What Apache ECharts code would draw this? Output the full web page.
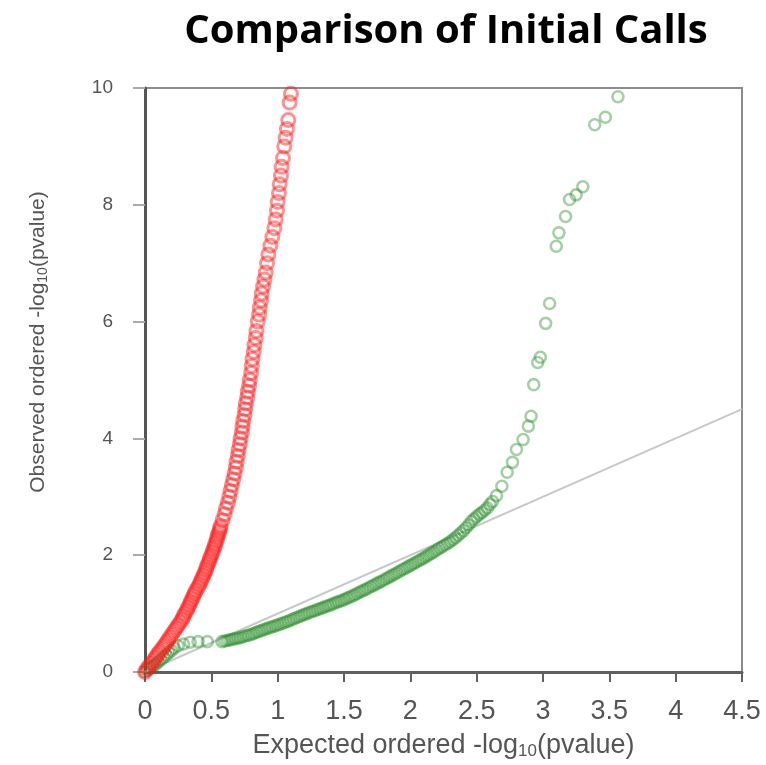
<!DOCTYPE html>
<html>
<head>
<meta charset="utf-8">
<script src="https://cdn.jsdelivr.net/npm/echarts@6/dist/echarts.min.js"></script>
<style>
html,body{margin:0;padding:0;background:#fff;}
#chart{width:766px;height:765px;}
</style>
</head>
<body>
<div id="chart"></div>
<script>
var titleText = 'Comparison of Initial Calls';
var xTicks = [0, 0.5, 1, 1.5, 2, 2.5, 3, 3.5, 4, 4.5];
var yTicks = [0, 2, 4, 6, 8, 10];

// reference diagonal (expected = observed)
var refLine = [[0, 0], [4.5, 4.5]];

// red series: [expected, observed]
var redPoints = [
  [0.000,0.00],[0.015,0.05],[0.030,0.10],[0.050,0.15],[0.065,0.20],[0.080,0.25],[0.095,0.30],[0.110,0.35],
  [0.130,0.40],[0.145,0.45],[0.160,0.50],[0.175,0.55],[0.190,0.60],[0.205,0.65],[0.220,0.70],[0.235,0.75],
  [0.250,0.80],[0.265,0.85],[0.280,0.90],[0.290,0.95],[0.300,1.00],[0.315,1.05],[0.325,1.10],[0.335,1.15],
  [0.345,1.20],[0.355,1.25],[0.365,1.30],[0.375,1.35],[0.385,1.40],[0.400,1.45],[0.410,1.50],[0.420,1.55],
  [0.430,1.60],[0.440,1.65],[0.450,1.70],[0.460,1.75],[0.465,1.80],[0.475,1.85],[0.485,1.90],[0.490,1.95],
  [0.500,2.00],[0.510,2.05],[0.515,2.10],[0.525,2.15],[0.530,2.20],[0.540,2.25],[0.545,2.30],[0.550,2.35],
  [0.560,2.40],[0.565,2.45],[0.570,2.50],[0.585,2.60],[0.600,2.70],[0.610,2.80],[0.625,2.90],[0.635,3.00],
  [0.645,3.10],[0.655,3.20],[0.665,3.30],[0.675,3.40],[0.685,3.50],[0.690,3.60],[0.700,3.70],[0.705,3.80],
  [0.715,3.90],[0.720,4.00],[0.730,4.10],[0.735,4.20],[0.740,4.30],[0.750,4.40],[0.755,4.50],[0.760,4.60],
  [0.770,4.70],[0.775,4.80],[0.785,4.90],[0.790,5.00],[0.800,5.12],[0.805,5.24],[0.810,5.36],[0.820,5.48],
  [0.825,5.60],[0.835,5.72],[0.840,5.84],[0.850,6.00],[0.860,6.12],[0.865,6.24],[0.875,6.36],[0.880,6.48],
  [0.890,6.60],[0.900,6.72],[0.910,6.84],[0.920,7.00],[0.930,7.15],[0.945,7.30],[0.960,7.45],[0.975,7.60],
  [0.985,7.75],[0.995,7.90],[1.000,8.05],[1.010,8.20],[1.015,8.35],[1.025,8.50],[1.030,8.65],[1.040,8.80],
  [1.050,9.00],[1.060,9.15],[1.070,9.30],[1.080,9.45],[1.090,9.75],[1.100,9.90],[1.110,10.05]
];

// green series: [expected, observed]
var greenPoints = [
  [0.00,0.00],[0.02,0.04],[0.04,0.07],[0.06,0.10],[0.08,0.13],[0.10,0.17],[0.12,0.21],[0.14,0.25],
  [0.16,0.29],[0.18,0.33],[0.20,0.37],[0.22,0.41],[0.25,0.45],[0.29,0.48],[0.34,0.51],[0.40,0.52],
  [0.47,0.52],
  [0.58,0.52],[0.60,0.53],[0.62,0.54],[0.64,0.55],[0.66,0.56],[0.68,0.57],[0.70,0.58],[0.72,0.59],
  [0.74,0.605],[0.76,0.62],[0.78,0.63],[0.80,0.645],[0.82,0.66],[0.84,0.68],[0.86,0.695],[0.88,0.71],
  [0.90,0.73],[0.92,0.745],[0.94,0.76],[0.96,0.775],[0.98,0.79],[1.00,0.805],[1.02,0.82],[1.04,0.84],
  [1.06,0.855],[1.08,0.87],[1.10,0.89],[1.12,0.91],[1.14,0.93],[1.16,0.945],[1.18,0.965],[1.20,0.985],
  [1.22,1.00],[1.24,1.02],[1.26,1.035],[1.28,1.05],[1.30,1.07],[1.32,1.085],[1.34,1.10],[1.36,1.12],
  [1.38,1.135],[1.40,1.15],[1.42,1.17],[1.44,1.19],[1.46,1.205],[1.48,1.22],[1.50,1.24],[1.52,1.26],
  [1.54,1.28],[1.56,1.30],[1.58,1.32],[1.60,1.345],[1.62,1.37],[1.64,1.39],[1.66,1.41],[1.68,1.435],
  [1.70,1.46],[1.72,1.48],[1.74,1.505],[1.76,1.53],[1.78,1.55],[1.80,1.575],[1.82,1.60],[1.84,1.625],
  [1.86,1.65],[1.88,1.675],[1.90,1.70],[1.92,1.725],[1.94,1.75],[1.96,1.775],[1.98,1.80],[2.00,1.825],
  [2.02,1.85],[2.04,1.875],[2.06,1.90],[2.08,1.925],[2.10,1.95],[2.12,1.98],[2.14,2.005],[2.16,2.035],
  [2.18,2.06],[2.20,2.09],[2.22,2.12],[2.24,2.145],[2.26,2.175],[2.28,2.20],[2.30,2.23],[2.32,2.265],
  [2.34,2.30],[2.36,2.34],[2.38,2.38],[2.40,2.42],[2.42,2.47],[2.44,2.52],[2.46,2.58],[2.48,2.62],
  [2.50,2.66],[2.52,2.70],[2.54,2.73],[2.56,2.77],[2.58,2.81],[2.60,2.87],[2.62,2.92],[2.65,3.02],
  [2.69,3.18],
  [2.73,3.42],[2.77,3.59],[2.80,3.81],[2.85,3.98],[2.89,4.21],[2.91,4.38],[2.93,4.92],[2.96,5.30],
  [2.98,5.39],[3.02,5.97],[3.05,6.31],[3.10,7.29],[3.12,7.52],[3.17,7.80],[3.20,8.09],[3.25,8.17],
  [3.30,8.31],[3.39,9.37],[3.47,9.50],[3.565,9.85]
];

var chart = echarts.init(document.getElementById('chart'), null, {renderer: 'canvas'});
var font = 'Liberation Sans, Arial, sans-serif';
chart.setOption({
  animation: false,
  backgroundColor: '#fff',
  title: {
    text: titleText,
    left: 441,
    textAlign: 'center',
    top: 7,
    textStyle: {fontFamily: 'Open Sans, sans-serif', fontWeight: 'bold', fontSize: 40, color: '#000'}
  },
  grid: {
    left: 145, right: 24, top: 88, bottom: 92,
    show: true, borderColor: '#8c8c8c', borderWidth: 2, backgroundColor: '#fff'
  },
  xAxis: {
    type: 'value',
    min: xTicks[0], max: xTicks[xTicks.length - 1], interval: xTicks[1] - xTicks[0],
    splitLine: {show: false},
    axisLine: {show: true, onZero: false, lineStyle: {color: '#606060', width: 3}},
    axisTick: {show: true, length: 10, lineStyle: {color: '#606060', width: 2}},
    axisLabel: {margin: 26, fontFamily: font, fontSize: 27, color: '#555'},
    name: 'Expected ordered -log{sub|10}(pvalue)',
    nameLocation: 'middle',
    nameGap: 59,
    nameTextStyle: {
      fontFamily: font, fontSize: 27, color: '#555',
      rich: {sub: {fontFamily: font, fontSize: 17, color: '#555', padding: [12, 0, 0, 0]}}
    }
  },
  yAxis: {
    type: 'value',
    min: yTicks[0], max: yTicks[yTicks.length - 1], interval: yTicks[1] - yTicks[0],
    splitLine: {show: false},
    axisLine: {show: true, onZero: false, lineStyle: {color: '#555', width: 3}},
    axisTick: {show: true, length: 12, lineStyle: {color: '#aaa', width: 2}},
    axisLabel: {margin: 32, fontFamily: font, fontSize: 19, color: '#555'},
    name: 'Observed ordered -log{sub|10}(pvalue)',
    nameLocation: 'middle',
    nameGap: 95,
    nameTextStyle: {
      fontFamily: font, fontSize: 21, color: '#555',
      padding: [0, 0, 0, 76],
      rich: {sub: {fontFamily: font, fontSize: 14, color: '#555', padding: [10, 0, 0, 0]}}
    }
  },
  series: [
    {
      type: 'line',
      data: refLine,
      symbol: 'none',
      silent: true,
      lineStyle: {color: '#c8c8c8', width: 2},
      z: 1
    },
    {
      type: 'scatter',
      data: greenPoints,
      symbol: 'circle',
      symbolSize: 11,
      itemStyle: {color: 'rgba(0,0,0,0)', borderColor: 'rgba(30,135,30,0.5)', borderWidth: 2.6},
      z: 2
    },
    {
      type: 'scatter',
      data: redPoints,
      symbol: 'circle',
      symbolSize: 13,
      itemStyle: {color: 'rgba(0,0,0,0)', borderColor: 'rgba(255,25,25,0.6)', borderWidth: 3},
      z: 3
    }
  ]
});
</script>
</body>
</html>
